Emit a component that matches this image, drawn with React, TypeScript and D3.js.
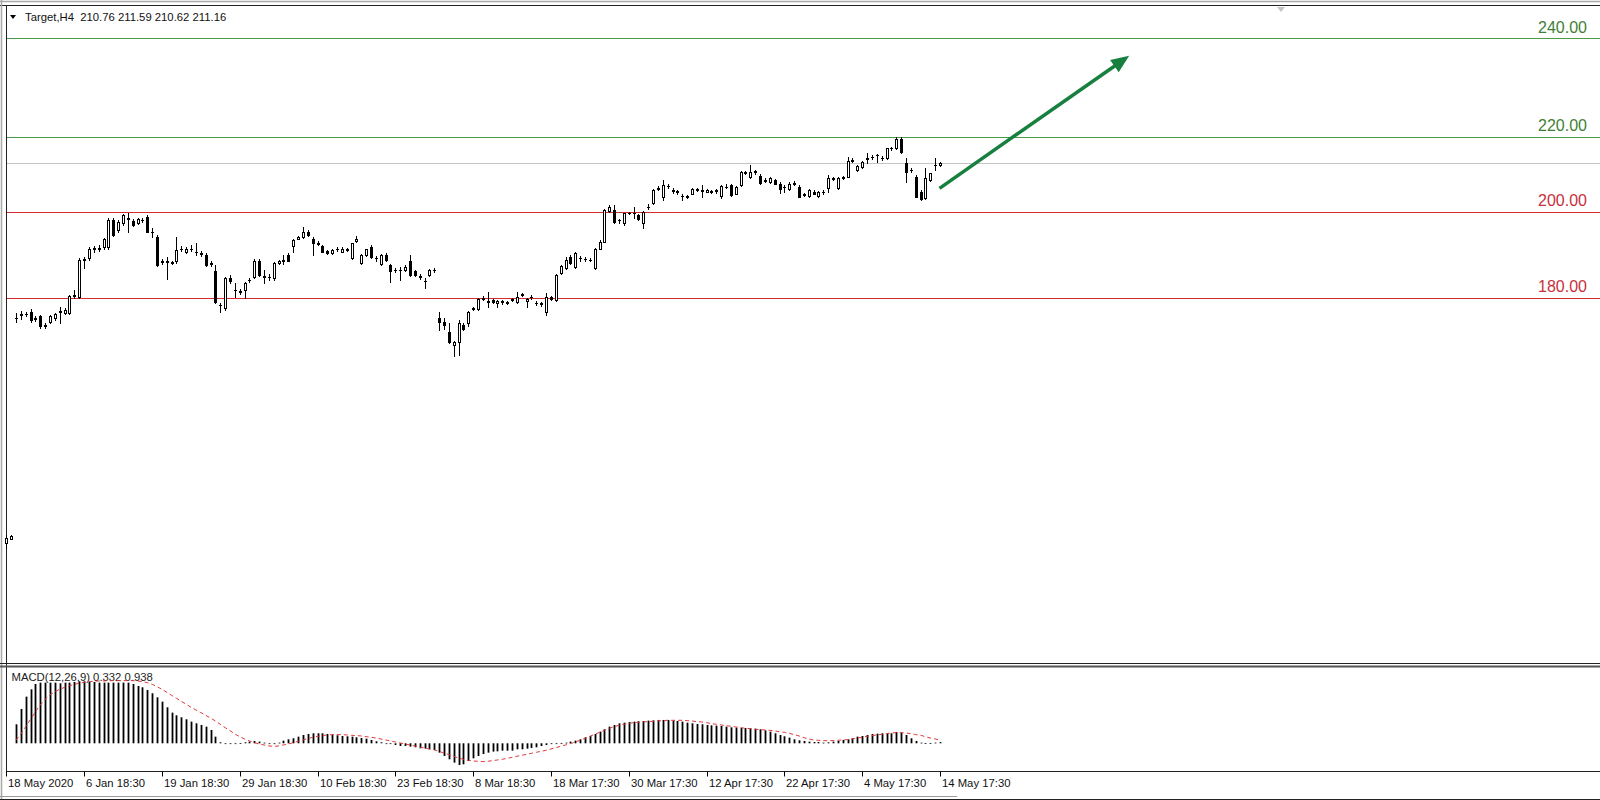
import React from 'react';
import * as d3 from 'd3';

// ---------------- DATA ----------------
const firstBar = -2; // bar index of first element (older bars at left edge)

const opens = [123.6,124.5,
175.4,176.2,176.4,176.9,175.3,175.8,173.5,174.6,175.4,176.8,176.5,176.7,180.5,180.4,188.9,189.2,191.4,191.6,191.8,191.8,
198.1,195.8,197.3,198.3,197.9,197.5,198.1,198.8,195.4,194.2,188.5,188.4,188.4,188.5,191.4,190.8,191.5,190.8,190.4,190.0,
188.0,186.2,178.5,177.7,184.6,181.9,181.5,181.9,184.2,185.0,188.7,185.1,184.9,184.6,188.2,188.7,190.0,192.1,193.8,194.2,
195.4,193.8,192.7,192.1,190.9,190.5,191.3,190.8,191.4,189.2,193.2,188.1,190.0,191.9,189.2,187.9,190.0,187.7,186.5,186.6,
186.5,188.5,186.2,185.0,184.1,185.4,186.5,175.5,174.5,172.3,169.3,170.0,173.8,174.2,177.5,177.5,179.9,179.4,179.6,179.0,
179.2,178.8,179.6,179.2,180.7,179.4,180.3,178.9,178.7,176.9,180.2,179.6,185.8,186.9,189.6,187.2,189.2,189.0,188.9,186.9,
191.5,193.1,200.1,200.4,198.0,197.3,199.6,199.6,199.2,197.3,201.0,201.9,205.3,203.5,206.0,204.9,204.6,203.7,203.3,204.2,
205.0,204.9,204.6,204.7,204.8,203.6,205.8,206.2,204.2,206.2,209.0,207.9,209.2,208.2,207.3,206.9,207.3,206.5,205.6,205.2,
206.5,205.8,204.0,203.7,204.6,203.7,204.5,205.4,207.7,205.4,207.9,208.1,211.8,209.6,210.4,212.2,212.6,213.0,212.3,212.3,
214.6,214.6,216.9,211.2,209.6,208.1,204.6,203.1,207.3,210.7,210.76];

const highs = [125.3,125.4,
176.5,177.1,176.9,177.5,175.9,176.2,174.2,176.1,176.7,178.1,177.7,180.8,181.9,189.2,189.6,191.8,192.0,192.2,194.0,198.5,
198.5,198.0,199.4,199.8,198.3,198.6,198.6,199.2,196.2,194.6,189.0,189.6,188.6,194.2,192.0,191.9,192.3,192.7,190.9,190.4,
188.5,187.7,179.0,184.9,185.4,183.5,182.2,183.8,184.8,189.0,189.0,186.5,185.5,188.3,188.9,190.0,190.4,193.6,194.3,196.4,
195.8,194.2,193.2,192.4,191.2,191.4,191.8,191.8,191.6,192.8,194.4,190.2,191.5,192.3,189.7,190.3,190.4,188.0,187.0,187.2,
187.6,190.0,186.5,185.6,184.7,186.8,187.0,176.9,175.5,174.2,170.2,175.0,174.2,177.1,178.0,180.0,180.6,181.5,179.9,179.6,
179.7,179.4,180.0,181.5,181.3,180.0,180.8,179.4,179.2,181.2,180.5,185.6,187.7,189.5,189.9,190.6,189.8,189.5,189.3,191.6,
193.4,200.6,201.6,201.6,198.4,199.8,200.0,201.2,199.5,200.2,201.7,205.3,205.9,207.3,206.5,205.5,205.1,204.2,203.8,205.4,
205.5,206.2,205.2,205.0,205.3,206.2,206.3,206.5,206.0,209.4,209.5,210.8,209.7,208.6,207.8,207.9,207.6,206.9,206.2,206.8,
207.0,206.1,204.3,205.2,204.9,204.8,205.0,208.5,208.1,208.0,208.2,212.7,212.3,210.8,211.7,213.5,213.1,213.4,212.8,214.8,
215.0,217.2,217.2,212.4,210.1,208.4,204.9,210.0,209.0,212.3,211.59];

const lows = [122.3,124.3,
174.6,175.2,175.8,174.6,174.8,173.2,173.2,174.2,175.0,174.2,176.4,176.3,180.0,180.0,186.9,188.8,190.8,191.0,191.5,191.4,
194.4,195.4,197.0,195.2,196.7,197.2,197.6,195.2,194.2,187.5,188.0,184.4,187.9,188.2,190.9,190.5,191.0,190.0,189.8,187.5,
187.4,179.0,176.9,177.2,183.6,180.4,180.9,180.0,183.7,184.6,185.1,183.6,184.3,184.2,188.0,188.0,188.5,190.8,193.6,194.0,
194.5,190.0,192.2,190.6,190.3,190.3,190.9,190.6,191.0,189.0,193.0,187.9,189.8,189.4,188.7,187.7,188.6,183.8,186.0,184.2,
186.3,185.2,185.2,184.5,182.3,185.2,186.1,172.6,172.8,169.6,166.7,166.9,172.6,173.5,177.2,177.3,179.5,178.1,178.9,178.0,
178.7,178.6,179.3,179.0,180.5,178.1,179.9,178.4,178.3,176.2,179.6,179.4,185.6,186.7,187.9,187.0,188.7,188.5,188.5,186.7,
191.3,192.9,199.9,197.5,197.5,197.0,199.5,198.5,198.1,196.2,200.6,201.7,204.9,202.7,205.5,204.4,204.2,202.8,203.1,204.0,
204.8,203.5,204.5,204.4,204.4,203.1,205.4,203.7,204.0,206.0,208.6,207.7,208.8,206.5,206.8,206.7,206.4,204.4,204.6,205.0,
206.1,203.3,203.6,203.5,204.0,203.5,204.1,204.6,207.3,205.2,207.6,207.9,211.4,209.4,210.2,211.2,212.2,211.5,211.9,212.1,
214.2,214.4,213.6,206.9,209.2,203.3,202.8,202.9,207.1,209.6,210.62];

const closes = [124.6,125.2,
175.5,176.3,176.3,175.0,175.4,173.5,173.9,175.8,176.4,177.0,177.3,180.5,180.7,188.9,189.1,191.5,191.6,191.5,193.8,198.1,
194.6,197.7,199.2,198.5,196.9,198.2,198.0,195.4,195.3,187.7,188.4,188.5,188.1,191.2,191.5,191.5,191.4,190.7,190.3,187.7,
188.1,179.2,178.4,184.6,183.9,182.0,181.6,183.6,184.3,188.7,185.4,185.0,185.0,188.1,188.7,188.8,188.7,193.5,194.1,195.4,
194.6,192.7,192.6,190.8,190.5,191.2,191.3,191.5,191.2,192.7,193.6,190.0,191.3,189.6,189.3,190.0,188.8,186.2,186.6,186.5,
187.3,185.4,185.4,185.1,184.0,186.5,186.6,174.5,173.8,169.8,169.9,174.2,172.8,176.9,177.7,179.8,180.1,179.2,179.1,179.4,
179.3,179.2,179.8,180.4,181.1,179.8,180.4,178.8,178.8,180.2,179.8,185.4,187.5,188.8,188.1,190.4,189.3,189.0,188.8,191.5,
193.1,200.4,201.2,197.7,198.1,199.6,199.8,199.7,198.3,200.0,201.2,205.0,205.4,206.2,205.9,204.8,204.7,203.6,203.6,205.2,
205.3,204.8,205.0,204.6,204.9,205.9,205.7,203.9,205.8,209.2,209.1,209.2,209.3,206.7,207.2,207.7,206.5,205.2,205.7,206.5,
206.6,203.5,203.8,205.0,204.2,204.6,204.6,207.7,207.6,207.8,207.8,211.7,211.9,210.6,211.5,212.3,212.7,213.1,212.4,214.6,
214.7,216.9,213.9,209.2,209.7,203.5,202.9,207.7,208.9,210.8,211.16];

// MACD histogram (main) and signal, per bar, from bar 0
const macdMain = [
5.43,9.81,13.33,15.43,16.95,17.33,17.33,17.33,17.33,17.14,17.33,17.33,17.52,17.71,17.71,17.52,17.52,17.33,17.33,17.33,
17.33,17.33,17.33,17.33,16.95,16.38,16.0,15.24,14.29,13.14,11.9,10.29,8.76,8.0,7.43,6.86,6.19,5.71,5.24,4.76,
3.81,1.9,0.29,0,0,0,0.1,0.29,0.48,0.67,0.48,0.19,0,0,0.19,0.76,1.14,1.43,1.9,2.38,
2.67,2.86,2.86,2.86,2.67,2.48,2.29,2.1,2.0,1.9,1.71,1.52,1.33,0.95,0.57,0.29,0,-0.19,-0.48,-0.76,
-0.76,-0.95,-1.14,-1.43,-1.52,-1.71,-1.9,-2.67,-3.62,-4.57,-5.52,-6.19,-6.0,-5.05,-4.29,-3.62,-3.05,-2.67,-2.38,-2.29,
-2.1,-2.1,-2.1,-1.71,-1.71,-1.52,-1.33,-1.14,-0.76,-0.48,-0.19,0,0.1,0.19,0.48,0.76,1.14,1.71,2.1,2.67,
3.33,4.0,4.76,5.24,5.71,5.9,6.1,6.19,6.29,6.38,6.48,6.57,6.67,6.67,6.67,6.57,6.38,6.19,5.9,5.71,
5.52,5.43,5.24,5.14,5.05,4.95,4.76,4.57,4.48,4.38,4.38,4.29,4.19,4.0,3.71,3.33,2.86,2.38,2.0,1.62,
1.14,0.86,0.67,0.48,0.38,0.38,0.19,0.29,0.48,0.67,0.95,1.14,1.43,1.9,2.1,2.38,2.67,2.76,2.86,2.95,
2.86,3.24,3.05,2.38,1.43,0.67,0.19,0.05,0.1,0.2,0.33];

const macdSignal = [
0.95,2.67,4.76,6.86,9.05,10.95,12.57,13.81,14.76,15.43,16.0,16.48,16.86,17.14,17.43,17.62,17.71,17.81,17.81,17.9,
17.9,17.9,17.9,17.9,17.9,17.81,17.62,17.33,16.86,16.19,15.43,14.57,13.71,12.86,12.0,11.14,10.29,9.52,8.76,8.0,
7.24,6.38,5.43,4.48,3.62,2.67,1.9,1.24,0.67,0.19,-0.19,-0.48,-0.76,-0.86,-0.76,-0.48,-0.19,0.19,0.57,0.95,
1.33,1.71,2.0,2.19,2.38,2.48,2.48,2.48,2.38,2.29,2.19,2.1,1.9,1.71,1.52,1.24,0.95,0.67,0.38,0.1,
-0.19,-0.48,-0.76,-1.05,-1.33,-1.62,-1.9,-2.29,-2.76,-3.24,-3.71,-4.19,-4.57,-4.86,-5.05,-5.14,-5.24,-5.14,-4.95,-4.76,
-4.57,-4.29,-4.0,-3.71,-3.43,-3.14,-2.86,-2.57,-2.29,-2.0,-1.62,-1.24,-0.86,-0.48,-0.1,0.38,0.86,1.43,2.0,2.57,
3.14,3.71,4.29,4.76,5.14,5.43,5.71,5.9,6.0,6.1,6.19,6.29,6.38,6.48,6.57,6.57,6.57,6.57,6.48,6.38,
6.19,6.1,5.9,5.62,5.43,5.24,5.05,4.86,4.67,4.48,4.29,4.19,4.0,3.9,3.81,3.71,3.52,3.33,3.14,2.86,
2.48,2.1,1.62,1.24,0.95,0.86,0.76,0.76,0.76,0.86,0.95,1.05,1.24,1.52,1.71,2.0,2.19,2.38,2.57,2.76,
2.95,3.05,3.05,2.95,2.76,2.48,2.29,1.9,1.52,1.24,0.938];

const tickBars = [-2, 14, 30, 46, 62, 78, 94, 110, 126, 142, 158, 174, 190];
const tickLabels = ["18 May 2020", "6 Jan 18:30", "19 Jan 18:30", "29 Jan 18:30", "10 Feb 18:30", "23 Feb 18:30",
  "8 Mar 18:30", "18 Mar 17:30", "30 Mar 17:30", "12 Apr 17:30", "22 Apr 17:30", "4 May 17:30", "14 May 17:30"];

const levelPrices = [240, 217.2, 200, 180];
const levelLabels = ["240.00", "220.00", "200.00", "180.00"];
const levelKinds = ["green", "green", "red", "red"];
const bidPrice = 211.16;

const headerText = "Target,H4  210.76 211.59 210.62 211.16";
const macdText = "MACD(12,26,9) 0.332 0.938";

const arrowFrom = { bar: 189.9, price: 205.4 };
const arrowTo = { bar: 228.9, price: 236.0 };

// ---------------- CHART ----------------
const W = 1600, H = 800;
const FONT = "'Liberation Sans', Arial, sans-serif";

export default function App() {
  const x = d3.scaleLinear().domain([0, 190]).range([16, 940]);
  const y = d3.scaleLinear().domain([180, 200]).range([298.3, 211.7]);
  const ym = d3.scaleLinear().domain([0, 10]).range([743.3, 708.3]);

  const bars = opens.map((o, i) => ({ k: i + firstBar, o, h: highs[i], l: lows[i], c: closes[i] }));

  const colors: Record<string, string> = { green: '#4a9a4a', red: '#d42a32' };
  const textColors: Record<string, string> = { green: '#3f7f34', red: '#c8303c' };

  const signalLine = d3.line<number>()
    .x((_, i) => x(i))
    .y((v) => ym(v));

  const ax1 = x(arrowFrom.bar), ay1 = y(arrowFrom.price);
  const ax2 = x(arrowTo.bar), ay2 = y(arrowTo.price);
  const dx = ax2 - ax1, dy = ay2 - ay1, len = Math.hypot(dx, dy);
  const ux = dx / len, uy = dy / len, px = -uy, py = ux;
  const headL = 18, headW = 7.5;
  const bx = ax2 - ux * headL, by = ay2 - uy * headL;
  const headPts = `${ax2},${ay2} ${bx + px * headW},${by + py * headW} ${bx - px * headW},${by - py * headW}`;

  const zeroY = ym(0);

  return (
    <svg width={W} height={H} style={{ position: 'absolute', left: 0, top: 0, background: '#fff' }}
      fontFamily={FONT}>
      <rect x={0} y={0} width={W} height={H} fill="#ffffff" />

      {/* frame */}
      <line x1={0} x2={W} y1={1.5} y2={1.5} stroke="#a8a8a8" strokeWidth={1.5} />
      <line x1={0} x2={W} y1={5.5} y2={5.5} stroke="#222" strokeWidth={1} />
      <line x1={1.5} x2={1.5} y1={0} y2={H} stroke="#a8a8a8" strokeWidth={1.5} />
      <line x1={6.5} x2={6.5} y1={5} y2={772} stroke="#222" strokeWidth={1} />
      <line x1={0} x2={W} y1={663.5} y2={663.5} stroke="#222" strokeWidth={1} />
      <line x1={0} x2={W} y1={666.5} y2={666.5} stroke="#555" strokeWidth={2} />
      <line x1={6} x2={W} y1={771.5} y2={771.5} stroke="#222" strokeWidth={1} />
      <line x1={0} x2={957} y1={796.5} y2={796.5} stroke="#9a9a9a" strokeWidth={1} />
      <line x1={0} x2={W} y1={799.5} y2={799.5} stroke="#222" strokeWidth={1} />

      {/* shift marker */}
      <polygon points="1277,7 1285,7 1281,12" fill="#c4c4c4" />

      {/* horizontal levels */}
      {levelPrices.map((p, i) => (
        <g key={'lv' + i}>
          <line x1={7} x2={W} y1={Math.round(y(p)) + 0.5} y2={Math.round(y(p)) + 0.5}
            stroke={colors[levelKinds[i]]} strokeWidth={1.2} />
          <text x={1587} y={y(p) - 6} textAnchor="end" fontSize={16} fill={textColors[levelKinds[i]]}>
            {levelLabels[i]}
          </text>
        </g>
      ))}
      <line x1={7} x2={W} y1={Math.round(y(bidPrice)) + 0.5} y2={Math.round(y(bidPrice)) + 0.5}
        stroke="#c4c4c4" strokeWidth={1} />

      {/* header */}
      <polygon points="10,15 16,15 13,19" fill="#000" />
      <text x={25} y={20.7} fontSize={11.3} fill="#111" style={{ whiteSpace: 'pre' }} xmlSpace="preserve">{headerText}</text>

      {/* candles */}
      <g shapeRendering="crispEdges">
        {bars.map((b) => {
          const cx = Math.round(x(b.k));
          const top = Math.round(y(Math.max(b.o, b.c)));
          const bot = Math.round(y(Math.min(b.o, b.c)));
          const bull = b.c >= b.o;
          const hy = Math.round(y(b.h));
          const ly = Math.round(y(b.l));
          return (
            <g key={'c' + b.k}>
              <line x1={cx + 0.5} x2={cx + 0.5} y1={hy} y2={ly + 1} stroke="#000" strokeWidth={1} />
              {bot - top < 1 ? (
                <line x1={cx - 1} x2={cx + 2} y1={top + 0.5} y2={top + 0.5} stroke="#000" strokeWidth={1} />
              ) : (
                <rect x={cx - 0.5} y={top + 0.5} width={2} height={bot - top}
                  fill={bull ? '#fff' : '#000'} stroke="#000" strokeWidth={1} />
              )}
            </g>
          );
        })}
      </g>

      {/* arrow */}
      <line x1={ax1} y1={ay1} x2={bx + ux * 2} y2={by + uy * 2} stroke="#17803f" strokeWidth={3.5} />
      <polygon points={headPts} fill="#17803f" />

      {/* MACD */}
      <text x={11.5} y={681.3} fontSize={11.3} fill="#222">{macdText}</text>
      <g>
        {macdMain.map((v, i) => {
          const cx = Math.round(x(i)) + 0.5;
          const yv = ym(v);
          const y1 = Math.min(zeroY, yv), y2 = Math.max(zeroY, yv);
          return (
            <line key={'m' + i} x1={cx} x2={cx} y1={y1} y2={Math.max(y2, y1 + 0.8)}
              stroke="#000" strokeWidth={1.8} />
          );
        })}
      </g>
      <path d={signalLine(macdSignal) || ''} fill="none" stroke="#e0383a" strokeWidth={1}
        strokeDasharray="4 3" />

      {/* time axis */}
      {tickBars.map((k, i) => {
        const tx = Math.round(x(k)) + 0.5;
        return (
          <g key={'t' + i}>
            <line x1={tx} x2={tx} y1={771.5} y2={776.5} stroke="#000" strokeWidth={1} />
            <text x={tx + 1.5} y={786.8} fontSize={11.3} fill="#111">{tickLabels[i]}</text>
          </g>
        );
      })}
    </svg>
  );
}
